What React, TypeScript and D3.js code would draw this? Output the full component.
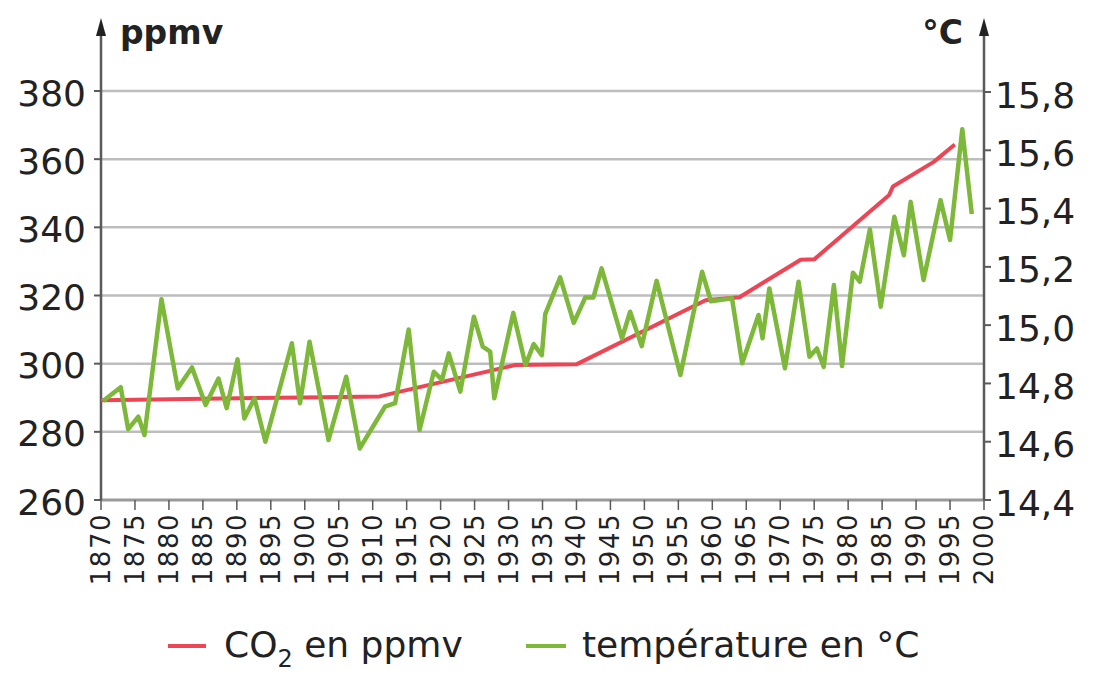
import React from "react";
import * as d3 from "d3";

const co2Years = [1870, 1900, 1911, 1931, 1940, 1959, 1964, 1973, 1975, 1986, 1986.6, 1992.6, 1995.7];
const co2Values = [289.3, 290.1, 290.4, 299.6, 299.8, 318.6, 319.5, 330.5, 330.6, 349.4, 352.0, 359.2, 364.3];

const tempYears = [
  1870.3, 1872.9, 1874.0, 1875.5, 1876.4, 1878.9, 1881.3, 1883.4, 1885.4, 1887.3, 1888.5, 1890.1, 1891.1,
  1892.6, 1894.2, 1898.1, 1899.3, 1900.7, 1903.5, 1906.1, 1908.1, 1911.8, 1913.3, 1915.3, 1916.9, 1919.0,
  1920.2, 1921.2, 1922.9, 1924.9, 1926.2, 1927.3, 1927.9, 1930.7, 1932.5, 1933.7, 1934.9, 1935.4, 1937.6,
  1939.6, 1941.3, 1942.5, 1943.7, 1946.7, 1947.9, 1949.6, 1951.8, 1955.3, 1958.5, 1959.8, 1962.9, 1964.4,
  1966.8, 1967.4, 1968.4, 1970.7, 1972.7, 1974.3, 1975.4, 1976.4, 1977.9, 1979.1, 1980.7, 1981.7, 1983.2,
  1984.8, 1986.8, 1988.2, 1989.2, 1991.1, 1993.6, 1995.0, 1996.8, 1998.2,
];
const tempValues = [
  14.74, 14.787, 14.643, 14.686, 14.623, 15.089, 14.783, 14.855, 14.726, 14.817, 14.715, 14.883, 14.68,
  14.749, 14.6, 14.938, 14.732, 14.943, 14.606, 14.823, 14.577, 14.72, 14.732, 14.985, 14.64, 14.84,
  14.812, 14.903, 14.772, 15.029, 14.926, 14.909, 14.749, 15.042, 14.863, 14.935, 14.897, 15.038, 15.164,
  15.008, 15.095, 15.095, 15.195, 14.955, 15.046, 14.928, 15.152, 14.829, 15.183, 15.082, 15.092, 14.869,
  15.035, 14.955, 15.126, 14.852, 15.149, 14.892, 14.92, 14.857, 15.138, 14.86, 15.18, 15.149, 15.329,
  15.063, 15.372, 15.24, 15.423, 15.155, 15.429, 15.292, 15.672, 15.381,
];

const leftTicks = [260, 280, 300, 320, 340, 360, 380];
const rightTicks = [14.4, 14.6, 14.8, 15.0, 15.2, 15.4, 15.6, 15.8];
const yearTicks = d3.range(1870, 2001, 5);

const leftUnit = "ppmv";
const rightUnit = "°C";
const legendCo2 = "CO";
const legendCo2Sub = "2";
const legendCo2Rest = " en ppmv";
const legendTemp = "température en °C";

const RED = "#ec4656";
const GREEN = "#7db83a";
const AXIS = "#5a5a5a";
const GRID = "#bdbdbd";
const FONT = "'DejaVu Sans', sans-serif";

export default function App() {
  const W = 1093;
  const H = 677;
  const x = d3.scaleLinear().domain([1870, 2000]).range([101, 984]);
  const yL = d3.scaleLinear().domain([260, 380]).range([500, 91]);
  const yR = d3.scaleLinear().domain([14.4, 15.8]).range([500, 92]);

  const co2Line = d3
    .line<number>()
    .x((_, i) => x(co2Years[i]))
    .y((v) => yL(v))(co2Values) as string;
  const tempLine = d3
    .line<number>()
    .x((_, i) => x(tempYears[i]))
    .y((v) => yR(v))(tempValues) as string;

  const fmtR = (v: number) => v.toFixed(1).replace(".", ",");

  return (
    <svg
      width={W}
      height={H}
      viewBox={`0 0 ${W} ${H}`}
      style={{ position: "absolute", left: 0, top: 0, background: "#fff" }}
      fontFamily={FONT}
    >
      <rect x={0} y={0} width={W} height={H} fill="#fff" />
      {leftTicks.slice(1).map((t) => (
        <line key={"g" + t} x1={x(1870)} x2={x(2000)} y1={yL(t)} y2={yL(t)} stroke={GRID} strokeWidth={2.5} />
      ))}
      <line x1={x(1870)} x2={x(2000)} y1={yL(260)} y2={yL(260)} stroke="#9a9a9a" strokeWidth={3} />
      {yearTicks.map((yr) => (
        <g key={"xt" + yr}>
          <line x1={x(yr)} x2={x(yr)} y1={500} y2={510} stroke={AXIS} strokeWidth={1.5} />
          <text
            transform={`translate(${x(yr)},513) rotate(-90)`}
            textAnchor="end"
            dominantBaseline="central"
            fontSize={26}
            letterSpacing={1.5}
            fill="#222"
          >
            {yr}
          </text>
        </g>
      ))}
      <line x1={x(1870)} x2={x(1870)} y1={500} y2={32} stroke={AXIS} strokeWidth={2.5} />
      <path d={`M${x(1870) - 5},36 L${x(1870)},18 L${x(1870) + 5},36 Z`} fill="#222" />
      {leftTicks.map((t) => (
        <g key={"lt" + t}>
          <line x1={x(1870) - 7} x2={x(1870)} y1={yL(t)} y2={yL(t)} stroke={AXIS} strokeWidth={2} />
          <text x={86} y={yL(t) + 2} textAnchor="end" dominantBaseline="central" fontSize={36} fill="#222">
            {t}
          </text>
        </g>
      ))}
      <text x={120} y={44} fontSize={33} fontWeight="bold" fill="#222">
        {leftUnit}
      </text>
      <line x1={x(2000)} x2={x(2000)} y1={500} y2={32} stroke={AXIS} strokeWidth={2.5} />
      <path d={`M${x(2000) - 5},36 L${x(2000)},18 L${x(2000) + 5},36 Z`} fill="#222" />
      {rightTicks.map((t) => (
        <g key={"rt" + t}>
          <line x1={x(2000)} x2={x(2000) + 7} y1={yR(t)} y2={yR(t)} stroke={AXIS} strokeWidth={2} />
          <text x={995} y={yR(t) + 3} textAnchor="start" dominantBaseline="central" fontSize={36} fill="#222">
            {fmtR(t)}
          </text>
        </g>
      ))}
      <text x={963} y={44} textAnchor="end" fontSize={33} fontWeight="bold" fill="#222">
        {rightUnit}
      </text>
      <path d={co2Line} fill="none" stroke={RED} strokeWidth={4} strokeLinejoin="round" />
      <path d={tempLine} fill="none" stroke={GREEN} strokeWidth={4.5} strokeLinejoin="round" />
      <line x1={168} x2={206} y1={646} y2={646} stroke={RED} strokeWidth={4} />
      <text x={224} y={657} fontSize={36} fill="#222">
        {legendCo2}
        <tspan fontSize={24} dy={10}>{legendCo2Sub}</tspan>
        <tspan dy={-10}>{legendCo2Rest}</tspan>
      </text>
      <line x1={526} x2={566} y1={646} y2={646} stroke={GREEN} strokeWidth={4} />
      <text x={582} y={657} fontSize={36} fill="#222">
        {legendTemp}
      </text>
    </svg>
  );
}
